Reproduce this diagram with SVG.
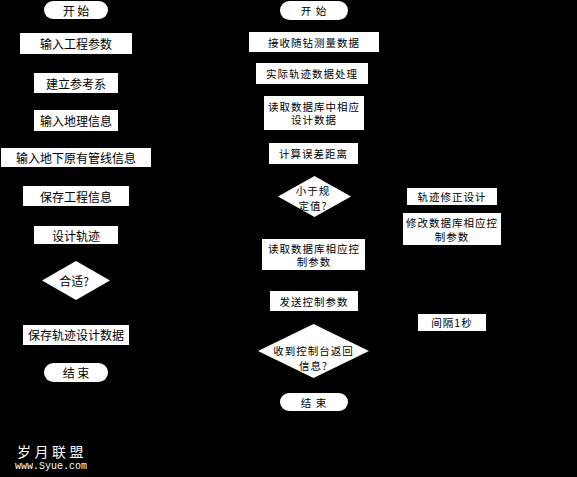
<svg xmlns="http://www.w3.org/2000/svg" width="577" height="477" viewBox="0 0 577 477">
<style>
.n{fill:#fff;stroke:none}
.t{font-family:"Noto Sans CJK SC","Liberation Sans",sans-serif;font-size:12px;fill:#000;text-anchor:middle;dominant-baseline:central}
.r{font-size:10.5px;letter-spacing:1px}
.w{font-family:"Noto Sans CJK SC",sans-serif;font-size:14px;fill:#fff;letter-spacing:3.5px}
.m{font-family:"Liberation Mono",monospace;font-size:10px;fill:#fff}
</style>
<rect width="577" height="477" fill="#000"/>
<g id="connectors"></g>
<g id="L1"><rect class="n" x="44" y="1" width="64" height="18" rx="9"/><text class="t" x="76" y="10">开  始</text></g>
<g id="L2"><rect class="n" x="20" y="33" width="112" height="21"/><text class="t" x="76" y="43.5">输入工程参数</text></g>
<g id="L3"><rect class="n" x="34" y="73" width="84" height="20"/><text class="t" x="76" y="83">建立参考系</text></g>
<g id="L4"><rect class="n" x="34" y="110" width="84" height="21"/><text class="t" x="76" y="120">输入地理信息</text></g>
<g id="L5"><rect class="n" x="1" y="148" width="150" height="19"/><text class="t" x="76" y="157.5">输入地下原有管线信息</text></g>
<g id="L6"><rect class="n" x="23" y="186" width="106" height="20"/><text class="t" x="76" y="196">保存工程信息</text></g>
<g id="L7"><rect class="n" x="34" y="226" width="84" height="18"/><text class="t" x="76" y="235">设计轨迹</text></g>
<g id="L8"><polygon class="n" points="76,261 110,280.5 76,300 42,280.5"/><text class="t" x="74" y="280">合适?</text></g>
<g id="L9"><rect class="n" x="23" y="325" width="106" height="20"/><text class="t" x="76" y="334.5">保存轨迹设计数据</text></g>
<g id="L10"><rect class="n" x="44" y="363" width="64" height="19" rx="9.5"/><text class="t" x="76" y="372.5">结  束</text></g>

<g id="R1"><rect class="n" x="280" y="1" width="68" height="19" rx="9.5"/><text class="t r" x="314" y="10.5">开  始</text></g>
<g id="R2"><rect class="n" x="249" y="32" width="130" height="20"/><text class="t r" x="314" y="42">接收随钻测量数据</text></g>
<g id="R3"><rect class="n" x="256" y="63" width="112" height="21"/><text class="t r" x="312" y="73.5">实际轨迹数据处理</text></g>
<g id="R4"><rect class="n" x="264" y="96" width="100" height="34"/><text class="t r" x="314" y="106">读取数据库中相应</text><text class="t r" x="314" y="119.5">设计数据</text></g>
<g id="R5"><rect class="n" x="269" y="143" width="89" height="21"/><text class="t r" x="313.5" y="153.5">计算误差距离</text></g>
<g id="R6"><polygon class="n" points="314.5,176 351,196.5 314.5,217 278,196.5"/><text class="t r" x="313" y="190">小于规</text><text class="t r" x="313" y="205">定值?</text></g>
<g id="R7"><rect class="n" x="262" y="239" width="103" height="31"/><text class="t r" x="314" y="248">读取数据库相应控</text><text class="t r" x="314" y="261.5">制参数</text></g>
<g id="R8"><rect class="n" x="270" y="291" width="88" height="20"/><text class="t r" x="314" y="301">发送控制参数</text></g>
<g id="R9"><polygon class="n" points="313.5,324 369,351 313.5,378 258,351"/><text class="t r" x="313.5" y="350">收到控制台返回</text><text class="t r" x="313.5" y="365">信息?</text></g>
<g id="R10"><rect class="n" x="280" y="393" width="68" height="18" rx="9"/><text class="t r" x="314" y="402">结  束</text></g>

<g id="S1"><rect class="n" x="407" y="188" width="90" height="17"/><text class="t r" x="452" y="196.5">轨迹修正设计</text></g>
<g id="S2"><rect class="n" x="403" y="213" width="98" height="32"/><text class="t r" x="452" y="222">修改数据库相应控</text><text class="t r" x="452" y="236">制参数</text></g>
<g id="S3"><rect class="n" x="418" y="314" width="68" height="17"/><text class="t r" x="452" y="322.5">间隔1秒</text></g>

<text class="w" x="17" y="457">岁月联盟</text>
<text class="m" x="15" y="469">www.Syue.com</text>
</svg>
